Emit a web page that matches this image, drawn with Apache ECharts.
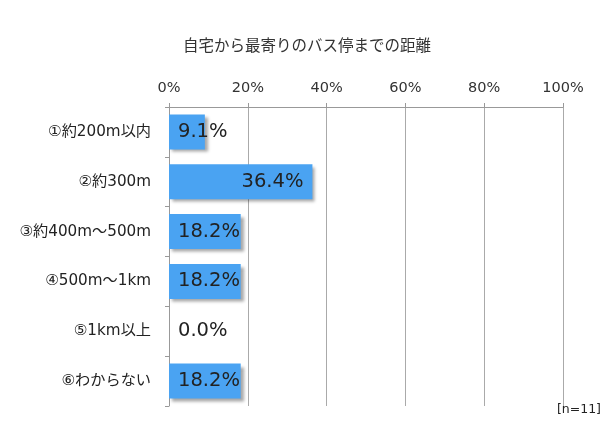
<!DOCTYPE html>
<html><head><meta charset="utf-8">
<script src="https://cdn.jsdelivr.net/npm/echarts@6/dist/echarts.min.js"></script>
<style>html,body{margin:0;padding:0;background:#fff}#c{width:614px;height:421px}</style>
</head><body><div id="c"></div>
<script>
const title = '自宅から最寄りのバス停までの距離';
const categories = ['①約200m以内','②約300m','③約400m～500m','④500m～1km','⑤1km以上','⑥わからない'];
const values = [9.1, 36.4, 18.2, 18.2, 0.0, 18.2];
const xTicks = [0, 20, 40, 60, 80, 100];
const note = '[n=11]';

const font = '"DejaVu Sans","Noto Sans CJK JP",sans-serif';
const cjk = '"Noto Sans CJK JP","Noto Sans",sans-serif';
const chart = echarts.init(document.getElementById('c'));
chart.setOption({
  backgroundColor: '#fff',
  animation: false,
  title: { text: title, left: 'center', top: 32, textStyle: { fontFamily: cjk, fontSize: 15.5, fontWeight: 'normal', color: '#333' } },
  grid: { left: 169, right: 51, top: 107, bottom: 15 },
  xAxis: {
    type: 'value', position: 'top', min: xTicks[0], max: xTicks[xTicks.length-1], interval: 20,
    axisLine: { show: true, lineStyle: { color: '#999' } },
    axisTick: { show: true, length: 4, lineStyle: { color: '#999' } },
    splitLine: { show: true, lineStyle: { color: '#aaa' } },
    axisLabel: { formatter: '{value}%', fontFamily: font, fontSize: 14.5, color: '#333', margin: 12 }
  },
  yAxis: {
    type: 'category', data: categories, inverse: true,
    axisLine: { show: true, lineStyle: { color: '#999' } },
    axisTick: { show: true, length: 4, lineStyle: { color: '#999' } },
    axisLabel: { fontFamily: font, fontSize: 15.2, color: '#222', margin: 18 }
  },
  series: [{
    type: 'bar', barWidth: 35,
    data: values.map((v, i) => ({
      value: v,
      label: { position: v > 30 ? 'insideRight' : 'insideLeft' }
    })),
    itemStyle: { color: '#4aa3f2', shadowColor: 'rgba(0,0,0,0.35)', shadowBlur: 3, shadowOffsetX: 3, shadowOffsetY: 3 },
    label: { show: true, distance: 9, fontFamily: font, fontSize: 19.5, color: '#222',
      formatter: p => p.value.toFixed(1) + '%' }
  }],
  graphic: [{ type: 'text', right: 13, bottom: 5, style: { text: note, font: '12.5px ' + font, fill: '#222' } }]
});
</script></body></html>
